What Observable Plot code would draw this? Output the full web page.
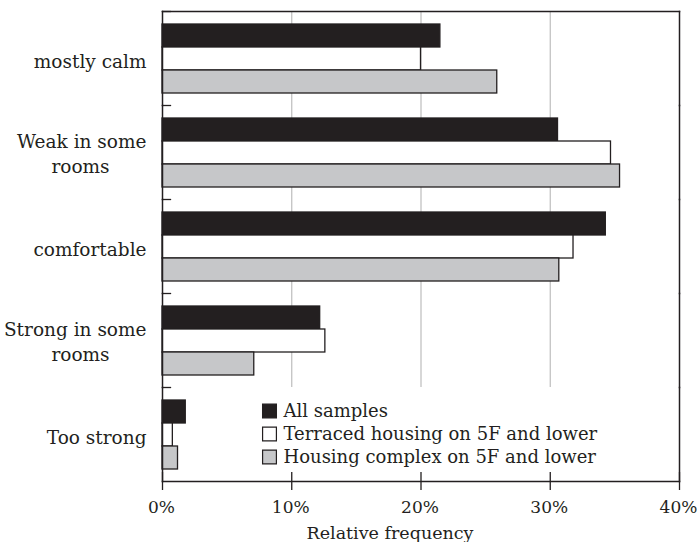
<!DOCTYPE html>
<html><head><meta charset="utf-8">
<script src="https://cdn.jsdelivr.net/npm/d3@7"></script>
<script src="https://cdn.jsdelivr.net/npm/@observablehq/plot@0.6"></script>
<style>body{margin:0;background:#fff}</style>
</head><body><div id="chart"></div>
<script>
const categories = ["mostly calm", "Weak in some rooms", "comfortable", "Strong in some rooms", "Too strong"];
const labelLine1 = ["mostly calm", "Weak in some", "comfortable", "Strong in some", "Too strong"];
const labelLine2 = ["", "rooms", "", "rooms", ""];
const series = ["All samples", "Terraced housing on 5F and lower", "Housing complex on 5F and lower"];
const allSamples = [21.5, 30.6, 34.3, 12.2, 1.8];
const terraced = [20.0, 34.7, 31.8, 12.6, 0.8];
const complex = [25.9, 35.4, 30.7, 7.1, 1.2];
const xTicks = [0, 10, 20, 30, 40];
const xTickLabels = ["0%", "10%", "20%", "30%", "40%"];
const gridTicks = [10, 20, 30];
const seriesColors = ["#231f20", "#ffffff", "#c6c7c9"];
const axisTitle = "Relative frequency";

const W = 697, H = 542, mL = 162, mR = 18, mT = 11, mB = 61;
const ink = "#231f20";
const font = "DejaVu Serif";

const seriesValues = [allSamples, terraced, complex];
const rows = categories.flatMap((c, i) => series.map((s, j) => ({cat: c, series: s, value: seriesValues[j][i]})));
const gridRows = categories.slice(0, 4).flatMap(c => gridTicks.map(x => ({cat: c, x})));
const labels = categories.map((c, i) => ({cat: c, l1: labelLine1[i], l2: labelLine2[i]}));
const lastCat = categories[categories.length - 1];

const chart = Plot.plot({
  width: W, height: H,
  marginLeft: mL, marginRight: mR, marginTop: mT, marginBottom: mB,
  style: {fontFamily: font, fontSize: "18px", color: ink, background: "#fff"},
  x: {domain: [0, 40], axis: null},
  y: {domain: series, paddingInner: 0, paddingOuter: 0.5, axis: null},
  fy: {domain: categories, padding: 0, axis: null},
  color: {domain: series, range: seriesColors},
  marks: [
    Plot.ruleX(gridRows, {x: "x", fy: "cat", stroke: "#bdbdbd", strokeWidth: 1.2}),
    Plot.barX(rows, {x: "value", y: "series", fy: "cat", fill: "series", stroke: ink, strokeWidth: 1.3}),
    Plot.frame({anchor: "left", stroke: ink, strokeWidth: 1.5}),
    Plot.frame({anchor: "right", stroke: ink, strokeWidth: 1.5}),
    Plot.frame({anchor: "top", fy: categories[0], stroke: ink, strokeWidth: 1.5}),
    Plot.frame({anchor: "bottom", fy: lastCat, stroke: ink, strokeWidth: 1.5}),
    Plot.frame({anchor: "top", insetRight: W - mL - mR - 8, stroke: ink, strokeWidth: 1.3}),
    Plot.axisX({ticks: xTicks, tickSize: 18, dy: -9, tickFormat: () => "", stroke: ink, strokeWidth: 1.3, label: null}),
    Plot.axisX({ticks: xTicks, tickSize: 0, tickPadding: 19, dx: -1, tickFormat: d => xTickLabels[xTicks.indexOf(d)], fontSize: 17, fill: ink, label: null}),
    Plot.text(labels.filter(d => !d.l2), {fy: "cat", text: "l1", frameAnchor: "left", textAnchor: "end", dx: -16, dy: 4, fontSize: 18.5, fill: ink}),
    Plot.text(labels.filter(d => d.l2), {fy: "cat", text: "l1", frameAnchor: "left", textAnchor: "end", dx: -16, dy: -10, fontSize: 18.5, fill: ink}),
    Plot.text(labels.filter(d => d.l2), {fy: "cat", text: "l2", frameAnchor: "left", textAnchor: "middle", dx: -82, dy: 15, fontSize: 18.5, fill: ink}),
    Plot.dot(series, {y: d => d, fy: () => lastCat, frameAnchor: "left", dx: 107, dy: -1, symbol: "square", r: 7.8, fill: d => d, stroke: ink, strokeWidth: 1.2}),
    Plot.text(series, {y: d => d, fy: () => lastCat, frameAnchor: "left", dx: 121, dy: -1, text: d => d, textAnchor: "start", fontSize: 18, fill: ink}),
    Plot.text([axisTitle], {fy: () => lastCat, frameAnchor: "bottom", dx: -31, dy: 57, text: d => d, fontSize: 17.5, fill: ink})
  ]
});
document.getElementById("chart").append(chart);
</script>
</body></html>
